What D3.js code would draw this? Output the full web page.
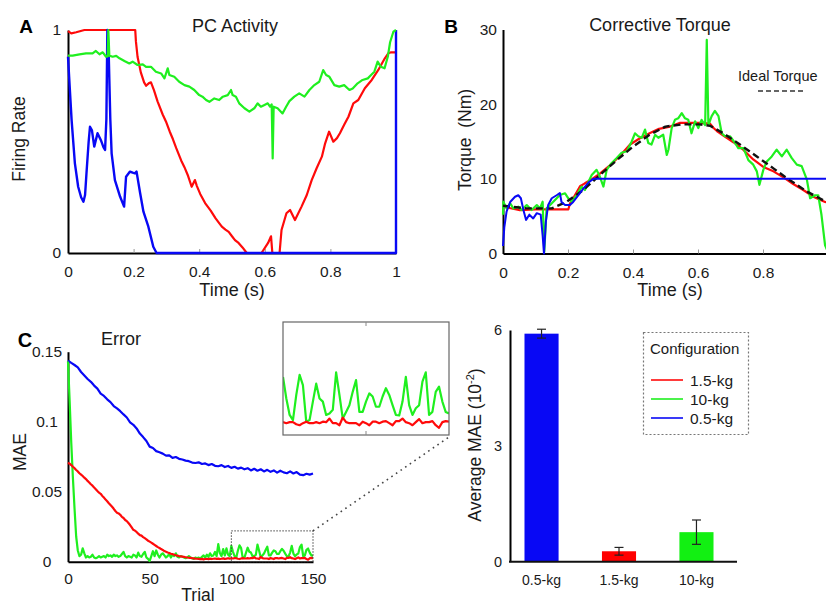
<!DOCTYPE html>
<html>
<head>
<meta charset="utf-8">
<script src="https://cdn.jsdelivr.net/npm/d3@7"></script>
<style>
  html, body { margin: 0; padding: 0; background: #fff; }
  svg { display: block; }
</style>
</head>
<body>
<svg id="fig" width="826" height="606"></svg>
<script>
// ---------- Panel A: Purkinje cell activity (time s, firing rate) ----------
const pcRed = [[0,.995],[.01,.985],[.025,.99],[.05,1],[.205,1],[.207,.95],[.212,.88],[.222,.81],[.232,.765],[.238,.75],[.247,.762],[.253,.765],[.262,.73],[.273,.68],[.289,.62],[.3,.585],[.31,.545],[.32,.51],[.33,.47],[.345,.415],[.355,.385],[.365,.35],[.377,.297],[.387,.327],[.393,.30],[.403,.265],[.418,.224],[.435,.19],[.45,.155],[.469,.118],[.48,.105],[.49,.095],[.5,.075],[.509,.058],[.52,.045],[.532,.025],[.545,0],[.59,0],[.61,.045],[.619,.075],[.623,0],[.645,0],[.651,.103],[.666,.178],[.677,.193],[.692,.148],[.712,.208],[.728,.26],[.743,.327],[.758,.38],[.774,.432],[.784,.492],[.796,.544],[.809,.499],[.82,.515],[.829,.537],[.842,.575],[.855,.611],[.87,.671],[.885,.686],[.905,.739],[.926,.776],[.946,.821],[.966,.873],[.977,.896],[.985,.9],[1,.9]];
const pcGreen = [[0,.885],[.014,.885],[.035,.891],[.055,.895],[.075,.895],[.085,.906],[.096,.891],[.106,.9],[.116,.88],[.121,.882],[.123,1],[.126,.885],[.136,.88],[.147,.884],[.157,.873],[.172,.861],[.187,.85],[.197,.858],[.212,.843],[.228,.846],[.238,.835],[.253,.835],[.268,.813],[.284,.805],[.294,.783],[.304,.828],[.309,.798],[.324,.79],[.339,.768],[.355,.753],[.37,.746],[.385,.731],[.4,.708],[.41,.701],[.421,.686],[.431,.678],[.446,.693],[.461,.686],[.472,.701],[.487,.708],[.497,.731],[.502,.708],[.512,.701],[.522,.671],[.538,.649],[.553,.634],[.568,.649],[.578,.671],[.588,.656],[.599,.664],[.609,.671],[.616,.656],[.621,.666],[.624,.424],[.627,.656],[.639,.649],[.654,.626],[.665,.656],[.675,.681],[.69,.701],[.705,.716],[.721,.701],[.736,.731],[.751,.753],[.766,.768],[.778,.82],[.787,.798],[.797,.79],[.812,.753],[.827,.746],[.842,.753],[.858,.731],[.868,.738],[.883,.761],[.898,.776],[.914,.783],[.924,.798],[.934,.813],[.944,.858],[.954,.835],[.965,.828],[.975,.88],[.982,.945],[.992,.992],[1,1]];
const pcBlue = [[0,.88],[.005,.75],[.011,.596],[.021,.402],[.031,.297],[.04,.25],[.047,.23],[.052,.26],[.057,.372],[.063,.5],[.067,.566],[.073,.55],[.08,.477],[.09,.537],[.1,.507],[.108,.475],[.113,.462],[.117,.6],[.12,1],[.124,.9],[.129,.6],[.133,.447],[.143,.327],[.159,.252],[.171,.208],[.177,.342],[.189,.365],[.197,.36],[.204,.357],[.209,.365],[.22,.268],[.23,.185],[.245,.118],[.26,.028],[.27,0],[1,0],[1,1]];
const pcTimeTicks = [0, 0.2, 0.4, 0.6, 0.8, 1];
const pcRateTicks = [0, 1];

// ---------- Panel B: corrective torque (time s, Nm) ----------
const tqIdeal = [[0,6.4],[.073,6.04],[.15,6.04],[.195,6.9],[.247,8.5],[.298,10.5],[.35,12.5],[.4,14.3],[.451,15.9],[.5,17],[.553,17.3],[.606,17.3],[.637,17.1],[.678,16.1],[.729,14.6],[.781,12.99],[.832,11.4],[.883,9.8],[.935,8.3],[.991,7],[1,6.8]];
const tqRed = [[0,6.5],[.02,6.1],[.052,5.8],[.1,5.9],[.15,5.9],[.201,5.9],[.206,6.7],[.216,7.4],[.237,9],[.252,9.4],[.268,9.8],[.298,10.7],[.329,11.8],[.36,13.1],[.391,14.6],[.42,15.4],[.451,16.1],[.48,16.7],[.514,17],[.545,17.5],[.575,17.5],[.606,17.5],[.637,17.4],[.648,16.8],[.658,16.4],[.678,15.8],[.709,14.9],[.739,13.9],[.77,12.6],[.801,11.6],[.832,11],[.863,10.2],[.893,9.3],[.924,8.5],[.955,7.6],[.991,6.9],[1,6.8]];
const tqGreen = [[0,5.2],[.001,6.94],[.011,6.04],[.022,6.71],[.032,6.04],[.047,6.27],[.057,5.83],[.073,6.49],[.088,5.83],[.104,6.49],[.114,6.04],[.122,6.94],[.127,0.2],[.134,6.04],[.145,6.49],[.16,7.16],[.175,7.83],[.191,8.06],[.201,7.39],[.211,6.94],[.227,7.83],[.242,8.95],[.252,8.5],[.263,9.62],[.273,10.5],[.288,11.2],[.298,10.3],[.309,8.97],[.319,11.2],[.334,12.1],[.35,12.8],[.365,13.5],[.381,13.7],[.396,15],[.406,16.1],[.416,15.7],[.427,15.5],[.437,16.6],[.447,14.8],[.457,14.6],[.468,15.9],[.478,15.5],[.493,15.9],[.504,13.2],[.509,13.9],[.519,16.8],[.529,17.9],[.539,18.1],[.55,18.8],[.56,18.1],[.57,17.9],[.58,16.1],[.591,17.7],[.601,16.8],[.611,17.9],[.622,17.2],[.627,28.6],[.632,17.2],[.642,18.4],[.652,19.1],[.663,18.4],[.673,16.1],[.683,15.7],[.699,15.7],[.714,14.8],[.724,14.1],[.74,14.1],[.755,12.5],[.77,11.9],[.781,11],[.789,9.2],[.801,11.2],[.811,12.3],[.827,13],[.842,13.9],[.858,13],[.873,13.9],[.888,12.8],[.904,11.9],[.919,11.7],[.935,9.9],[.945,7.4],[.96,7.8],[.97,7.8],[.98,5.15],[.991,1.1],[1,0.2]];
const tqBlue = [[0,1],[.004,3.5],[.011,5.6],[.022,6.9],[.037,7.6],[.047,7.8],[.055,7.4],[.063,5.8],[.071,4.5],[.081,5.2],[.093,4.7],[.104,5.4],[.116,5.2],[.122,2.4],[.126,0],[.132,4.3],[.139,6.5],[.15,7.4],[.165,7.8],[.175,8.1],[.18,6.9],[.191,6.5],[.206,6.5],[.216,6.9],[.232,7.8],[.247,8.7],[.263,9.5],[.278,10],[1,10]];
const tqTimeTicks = [0, 0.2, 0.4, 0.6, 0.8];
const tqTorqueTicks = [0, 10, 20, 30];

// ---------- Panel C: mean absolute error per trial ----------
const maeRed = [
  .0707,.0700,.0690,.0678,.0668,.0655,.0645,.0632,.0622,.0612,
  .0600,.0590,.0577,.0566,.0553,.0543,.0530,.0518,.0505,.0493,
  .0485,.0470,.0458,.0444,.0432,.0418,.0405,.0392,.0378,.0362,
  .0350,.0345,.0335,.0320,.0312,.0298,.0290,.0276,.0262,.0245,
  .0228,.0222,.0212,.0200,.0190,.0186,.0176,.0168,.0160,.0150,
  .0143,.0136,.0128,.0120,.0112,.0104,.0098,.0090,.0084,.0076,
  .0071,.0066,.0062,.0057,.0054,.0050,.0046,.0043,.0040,.0038,
  .0036,.0034,.0032,.0030,.0028,.0027,.0025,.0024,.0022,.0021,
  .0020,.0018,.0020,.0017,.0019,.0021,.0018,.0022,.0019,.0021,
  .0023,.0020,.0022,.0019,.0021,.0024,.0020,.0022,.0025,.0022,
  .0025,.0023,.0025,.0025,.0021,.0019,.0023,.0026,.0023,.0023,
  .0025,.0023,.0026,.0025,.0032,.0023,.0023,.0019,.0034,.0025,
  .0023,.0023,.0023,.0019,.0026,.0023,.0019,.0026,.0026,.0023,
  .0026,.0027,.0023,.0019,.0027,.0027,.0032,.0025,.0023,.0019,
  .0025,.0031,.0023,.0025,.0025,.0027,.0019,.0014,.0025,.0027,
  .0026];
const maeGreen = [
  .143,.115,.085,.060,.038,.018,.008,.004,.005,.0095,
  .006,.003,.004,.003,.0035,.005,.003,.0025,.003,.004,
  .003,.0035,.004,.003,.005,.004,.0045,.0035,.005,.004,
  .0045,.0035,.004,.0055,.007,.004,.003,.004,.0035,.003,
  .005,.0045,.003,.0065,.004,.0035,.0055,.007,.003,.002,
  .0005,.004,.0075,.004,.008,.005,.003,.005,.006,.0045,
  .003,.004,.0055,.003,.005,.004,.006,.0035,.003,.004,
  .0035,.003,.0025,.003,.004,.003,.0025,.002,.003,.0025,
  .003,.002,.0035,.0045,.003,.005,.0035,.006,.004,.0045,
  .007,.004,.0125,.006,.004,.009,.0045,.0095,.005,.004,
  .0113,.0071,.0039,.0029,.0078,.0117,.0097,.0026,.0029,.0065,
  .0100,.0071,.0065,.0039,.0042,.0049,.0122,.0078,.0032,.0045,
  .0058,.0084,.0107,.0045,.0045,.0065,.0081,.0075,.0055,.0055,
  .0075,.0091,.0078,.0058,.0039,.0038,.0065,.0113,.0058,.0039,
  .0052,.0058,.0104,.0122,.0039,.0045,.0084,.0094,.0065,.0045,
  .0042];
// blue error sampled every second trial (0, 2, ..., 150)
const maeBlue = [
  .1436,.1420,.1405,.1388,.1355,.1330,.1305,.1285,.1258,.1236,
  .1200,.1184,.1160,.1140,.1112,.1095,.1075,.1052,.1030,.0995,
  .0978,.0952,.0915,.0890,.0862,.0822,.0812,.0790,.0782,.0772,
  .0758,.0760,.0742,.0748,.0735,.0730,.0722,.0718,.0708,.0705,
  .0710,.0698,.0702,.0690,.0698,.0685,.0682,.0690,.0676,.0684,
  .0670,.0678,.0665,.0672,.0660,.0668,.0652,.0664,.0650,.0660,
  .0645,.0656,.0642,.0652,.0636,.0650,.0638,.0632,.0645,.0630,
  .0640,.0622,.0618,.0628,.0622,.0630];
const maeTrialTicks = [0, 50, 100, 150];
const maeTicks = [0, 0.05, 0.1, 0.15];

// ---------- Panel D: average MAE per configuration (x 10^-2) ----------
const barLabels = ["0.5-kg", "1.5-kg", "10-kg"];
const barMeans = [5.905, 0.27, 0.765];
const barErrors = [0.115, 0.10, 0.315];
const barTicks = [0, 3, 6];
const legendLabels = ["1.5-kg", "10-kg", "0.5-kg"];

// ---------- drawing ----------
const FONT = '"Liberation Sans", Arial, Helvetica, sans-serif';
const RED = "#ff0a0a", GREEN = "#1fef1f", BLUE = "#0808f5";
const barColors = [BLUE, "#ff0000", "#12f012"];
const legendColors = [RED, GREEN, BLUE];
const LW = 2.2;

const svg = d3.select("#fig").attr("font-family", FONT);
svg.append("rect").attr("width", 826).attr("height", 606).attr("fill", "#fff");

function styleAxis(g, size) {
  g.attr("font-family", FONT).attr("font-size", size);
  g.select(".domain").attr("stroke", "#000").attr("stroke-width", 2);
  g.selectAll(".tick line").attr("stroke", "#999").attr("stroke-width", 1);
  g.selectAll(".tick text").attr("fill", "#1a1a1a");
}
function series(g, pts, x, y, color, width, dash) {
  g.append("path").datum(pts)
    .attr("d", d3.line().x(d => x(d[0])).y(d => y(d[1])))
    .attr("fill", "none").attr("stroke", color).attr("stroke-width", width)
    .attr("stroke-linejoin", "round").attr("stroke-linecap", "butt")
    .attr("stroke-dasharray", dash || null);
}
function label(x, y, txt, size, opts = {}) {
  const t = svg.append("text").attr("x", x).attr("y", y).text(txt)
    .attr("font-size", size).attr("fill", "#1a1a1a")
    .attr("text-anchor", opts.anchor || "middle");
  if (opts.bold) t.attr("font-weight", "bold").attr("fill", "#000");
  if (opts.rotate) t.attr("transform", `rotate(-90,${x},${y})`);
  return t;
}
const fmt = d3.format("~g");

// ----- Panel A -----
const xA = d3.scaleLinear().domain([0, 1]).range([68, 396]);
const yA = d3.scaleLinear().domain([0, 1]).range([253, 30]);
svg.append("g").attr("transform", "translate(0,253)")
  .call(d3.axisBottom(xA).tickValues(pcTimeTicks).tickFormat(fmt).tickSizeInner(-4).tickSizeOuter(0).tickPadding(13))
  .call(g => styleAxis(g, 15.5));
svg.append("g").attr("transform", "translate(68,0)")
  .call(d3.axisLeft(yA).tickValues(pcRateTicks).tickFormat(fmt).tickSizeInner(0).tickSizeOuter(0).tickPadding(7))
  .call(g => styleAxis(g, 15.5));
const gA = svg.append("g");
series(gA, pcRed, xA, yA, RED, LW);
series(gA, pcBlue, xA, yA, BLUE, LW + 0.2);
series(gA, pcGreen, xA, yA, GREEN, LW);
label(26, 33, "A", 19, { bold: true });
label(235, 32, "PC Activity", 18);
label(232, 296, "Time (s)", 18);
label(25, 139, "Firing Rate", 17.5, { rotate: true });

// ----- Panel B -----
const xB = d3.scaleLinear().domain([0, 1]).range([503, 828]);
const yB = d3.scaleLinear().domain([0, 30]).range([253.5, 29.5]);
svg.append("g").attr("transform", "translate(0,253.5)")
  .call(d3.axisBottom(xB).tickValues(tqTimeTicks).tickFormat(fmt).tickSizeInner(-4).tickSizeOuter(0).tickPadding(13))
  .call(g => styleAxis(g, 15.5));
svg.append("g").attr("transform", "translate(503,0)")
  .call(d3.axisLeft(yB).tickValues(tqTorqueTicks).tickFormat(fmt).tickSizeInner(0).tickSizeOuter(0).tickPadding(6))
  .call(g => styleAxis(g, 15.5));
const gB = svg.append("g");
series(gB, tqRed, xB, yB, RED, LW);
series(gB, tqGreen, xB, yB, GREEN, LW);
series(gB, tqIdeal, xB, yB, "#111", 2.4, "7,4");
series(gB, tqBlue, xB, yB, BLUE, 2);
label(451, 33, "B", 19, { bold: true });
label(660, 31, "Corrective Torque", 18);
label(670, 296, "Time (s)", 18);
label(471, 140, "Torque\u00a0\u00a0(Nm)", 17.5, { rotate: true });
label(738, 81, "Ideal Torque", 14.5, { anchor: "start" });
svg.append("line").attr("x1", 758).attr("x2", 803).attr("y1", 91).attr("y2", 91)
  .attr("stroke", "#333").attr("stroke-width", 1.3).attr("stroke-dasharray", "5,3");

// ----- Panel C -----
const xC = d3.scaleLinear().domain([0, 150]).range([68, 313]);
const yC = d3.scaleLinear().domain([0, 0.15]).range([561.7, 351.7]);
const trials = d3.range(maeRed.length);
const bluePts = maeBlue.map((v, i) => [i * 2, v]);
const redPts = maeRed.map((v, i) => [trials[i], v]);
const greenPts = maeGreen.map((v, i) => [trials[i], v]);
svg.append("g").attr("transform", "translate(0,561.7)")
  .call(d3.axisBottom(xC).tickValues(maeTrialTicks).tickFormat(fmt).tickSizeInner(0).tickSizeOuter(0).tickPadding(11))
  .call(g => styleAxis(g, 15.5));
svg.append("g").attr("transform", "translate(68,0)")
  .call(d3.axisLeft(yC).tickValues(maeTicks).tickFormat(fmt).tickSizeInner(0).tickSizeOuter(0).tickPadding(6))
  .call(g => styleAxis(g, 15.5))
  .call(g => g.selectAll(".tick text").attr("text-anchor", "middle").attr("x", -21));
const gC = svg.append("g");
series(gC, bluePts, xC, yC, BLUE, LW);
series(gC, greenPts, xC, yC, GREEN, LW);
series(gC, redPts, xC, yC, RED, LW);
label(25, 347, "C", 20, { bold: true });
label(121, 345, "Error", 18);
label(198, 601, "Trial", 17.5);
label(26, 452, "MAE", 17.5, { rotate: true });

// zoom window on the late trials
const zoomDomainY = [0, 0.022];
svg.append("rect")
  .attr("x", xC(100)).attr("y", yC(zoomDomainY[1]))
  .attr("width", xC(150) - xC(100)).attr("height", yC(0) - yC(zoomDomainY[1]))
  .attr("fill", "none").attr("stroke", "#444").attr("stroke-width", 1).attr("stroke-dasharray", "1.5,1.5");
const xI = d3.scaleLinear().domain([100, 150]).range([283, 449]);
const yI = d3.scaleLinear().domain(zoomDomainY).range([435, 322]);
svg.append("line")
  .attr("x1", xC(150)).attr("y1", yC(zoomDomainY[1])).attr("x2", 449).attr("y2", 437)
  .attr("stroke", "#444").attr("stroke-width", 1.6).attr("stroke-dasharray", "1.6,4");
svg.append("defs").append("clipPath").attr("id", "insetClip")
  .append("rect").attr("x", 283).attr("y", 322).attr("width", 166).attr("height", 113);
svg.append("rect").attr("x", 283).attr("y", 322).attr("width", 166).attr("height", 113)
  .attr("fill", "#fff");
const gI = svg.append("g").attr("clip-path", "url(#insetClip)");
series(gI, greenPts.filter(d => d[0] >= 100), xI, yI, GREEN, LW);
series(gI, redPts.filter(d => d[0] >= 100), xI, yI, RED, LW);
svg.append("rect").attr("x", 283).attr("y", 322).attr("width", 166).attr("height", 113)
  .attr("fill", "none").attr("stroke", "#666").attr("stroke-width", 1.2);
[[435, 431], [322, 326]].forEach(([a, b]) =>
  svg.append("line").attr("x1", xI(125)).attr("x2", xI(125)).attr("y1", a).attr("y2", b)
    .attr("stroke", "#888").attr("stroke-width", 1));

// ----- Panel D: bars -----
const xD = d3.scaleBand().domain(barLabels).range([509, 729]).paddingInner(0.56).paddingOuter(0.2);
const yD = d3.scaleLinear().domain([0, 6]).range([561.7, 330]);
const gD = svg.append("g");
gD.selectAll("rect.bar").data(barLabels).join("rect").attr("class", "bar")
  .attr("x", d => xD(d)).attr("width", xD.bandwidth())
  .attr("y", (d, i) => yD(barMeans[i])).attr("height", (d, i) => yD(0) - yD(barMeans[i]))
  .attr("fill", (d, i) => barColors[i]);
gD.selectAll("g.err").data(barLabels).join("g").attr("class", "err").each(function (d, i) {
  const cx = xD(d) + xD.bandwidth() / 2;
  const lo = yD(barMeans[i] - barErrors[i]), hi = yD(barMeans[i] + barErrors[i]);
  const g = d3.select(this);
  g.append("line").attr("x1", cx).attr("x2", cx).attr("y1", lo).attr("y2", hi);
  g.append("line").attr("x1", cx - 4.5).attr("x2", cx + 4.5).attr("y1", lo).attr("y2", lo);
  g.append("line").attr("x1", cx - 4.5).attr("x2", cx + 4.5).attr("y1", hi).attr("y2", hi);
  g.selectAll("line").attr("stroke", "#222").attr("stroke-width", 1.2);
});
svg.append("g").attr("transform", "translate(510,0)")
  .call(d3.axisLeft(yD).tickValues(barTicks).tickFormat(fmt).tickSizeInner(0).tickSizeOuter(0).tickPadding(8))
  .call(g => styleAxis(g, 14.5));
svg.append("line").attr("x1", 509).attr("x2", 737).attr("y1", yD(0)).attr("y2", yD(0))
  .attr("stroke", "#111").attr("stroke-width", 2);
barLabels.forEach(l => label(xD(l) + xD.bandwidth() / 2, 585, l, 14));
const yl = svg.append("text").attr("text-anchor", "middle").attr("font-size", 17.5).attr("fill", "#1a1a1a")
  .attr("transform", "translate(481,445) rotate(-90)");
yl.append("tspan").text("Average MAE (10");
yl.append("tspan").text("-2").attr("font-size", 11).attr("dy", -7);
yl.append("tspan").text(")").attr("dy", 7);

// legend
svg.append("rect").attr("x", 643.5).attr("y", 332.5).attr("width", 105).attr("height", 102)
  .attr("fill", "none").attr("stroke", "#777").attr("stroke-width", 1.2).attr("stroke-dasharray", "2,2");
label(650, 354, "Configuration", 15, { anchor: "start" });
legendLabels.forEach((l, i) => {
  const y = 380 + i * 19;
  svg.append("line").attr("x1", 651).attr("x2", 683).attr("y1", y).attr("y2", y)
    .attr("stroke", legendColors[i]).attr("stroke-width", 1.6);
  label(690, y + 5.5, l, 15.5, { anchor: "start" });
});
</script>
</body>
</html>
